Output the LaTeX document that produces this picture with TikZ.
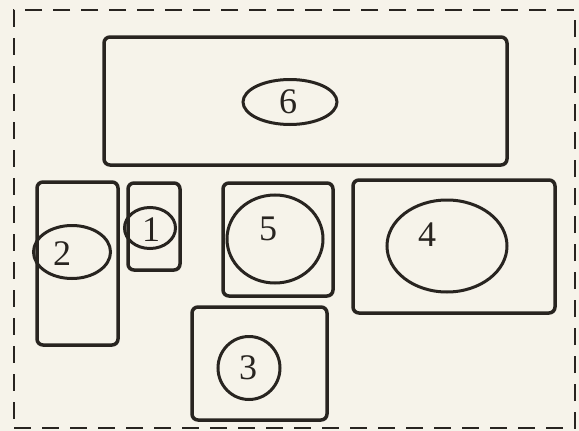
\documentclass[tikz,border=0pt]{standalone}
\usepackage{fontspec}
\setmainfont{Liberation Serif}
\usetikzlibrary{shapes.geometric}
\definecolor{ink}{RGB}{40,36,32}
\definecolor{paper}{RGB}{246,243,234}
\tikzset{
  roombox/.style={draw=ink, line width=3.5pt, rounded corners=6pt, rectangle, inner sep=0pt},
  zone/.style={draw=ink, line width=3pt, ellipse, inner sep=0pt},
  num/.style={text=ink, font=\fontsize{36}{36}\selectfont, inner sep=0pt}
}
\begin{document}
\begin{tikzpicture}[x=1pt,y=-1pt]
\useasboundingbox (0,0) rectangle (579,431);
\fill[paper] (0,0) rectangle (579,431);
\node[draw=ink, line width=2.2pt, dash pattern=on 17pt off 11pt, rectangle, inner sep=0pt, minimum width=561pt, minimum height=418pt] (frame) at (294.5,219) {};
% boxes
\node[roombox, minimum width=403pt, minimum height=128pt] (b6) at (305.5,101) {};
\node[roombox, minimum width=81pt, minimum height=163pt] (b2) at (77.5,263.5) {};
\node[roombox, minimum width=52pt, minimum height=87pt] (b1) at (154,226.5) {};
\node[roombox, minimum width=110pt, minimum height=113pt] (b5) at (278,239.5) {};
\node[roombox, minimum width=135pt, minimum height=113pt] (b3) at (259.5,363.5) {};
\node[roombox, minimum width=202pt, minimum height=133pt] (b4) at (454,246.5) {};
% ellipses
\node[zone, minimum width=94pt, minimum height=45pt] (e6) at (290,102) {};
\node[zone, minimum width=77pt, minimum height=53pt] (e2) at (72,252) {};
\node[zone, minimum width=51pt, minimum height=41pt] (e1) at (150,228) {};
\node[zone, minimum width=96pt, minimum height=88pt] (e5) at (275,239) {};
\node[zone, minimum width=62pt, minimum height=63pt] (e3) at (249,368) {};
\node[zone, minimum width=120pt, minimum height=92pt] (e4) at (447,246) {};
% labels
\node[num] (l6) at (288,102) {6};
\node[num] (l2) at (62,254) {2};
\node[num] (l1) at (151,230) {1};
\node[num] (l5) at (268,229) {5};
\node[num] (l3) at (248,368) {3};
\node[num] (l4) at (427,235) {4};
\end{tikzpicture}
\end{document}
